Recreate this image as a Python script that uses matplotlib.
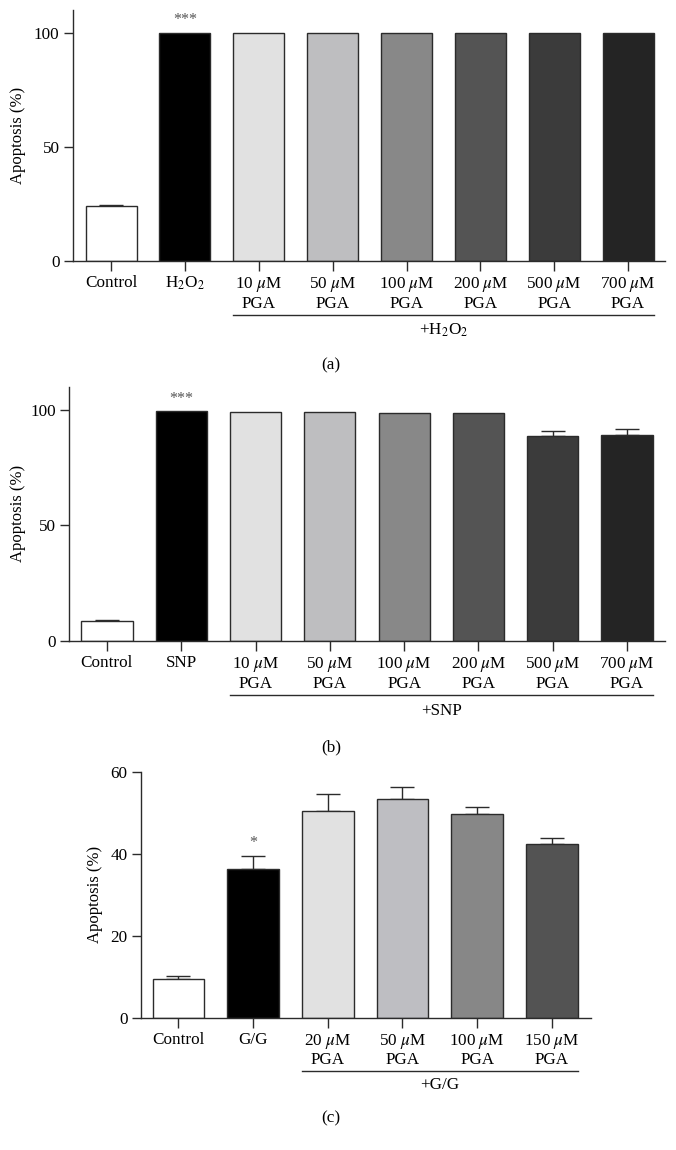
import matplotlib
matplotlib.use("Agg")
import matplotlib.pyplot as plt
from matplotlib.transforms import blended_transform_factory
import numpy as np

plt.rcParams['font.family'] = ['Liberation Serif', 'DejaVu Serif']
plt.rcParams['mathtext.fontset'] = 'stix'

# panel (a): H2O2
labels_a = ['Control', 'H$_2$O$_2$', '10 $\\mu$M\nPGA', '50 $\\mu$M\nPGA', '100 $\\mu$M\nPGA',
            '200 $\\mu$M\nPGA', '500 $\\mu$M\nPGA', '700 $\\mu$M\nPGA']
vals_a = [24.3, 100, 100, 100, 100, 100, 100, 100]
err_a = [0.4, 0, 0, 0, 0, 0, 0, 0]

# panel (b): SNP
labels_b = ['Control', 'SNP', '10 $\\mu$M\nPGA', '50 $\\mu$M\nPGA', '100 $\\mu$M\nPGA',
            '200 $\\mu$M\nPGA', '500 $\\mu$M\nPGA', '700 $\\mu$M\nPGA']
vals_b = [8.8, 99.3, 99.1, 99.0, 98.8, 98.8, 88.5, 89.1]
err_b = [0.5, 0, 0, 0, 0, 0, 2.4, 2.7]

# panel (c): G/G
labels_c = ['Control', 'G/G', '20 $\\mu$M\nPGA', '50 $\\mu$M\nPGA', '100 $\\mu$M\nPGA', '150 $\\mu$M\nPGA']
vals_c = [9.4, 36.4, 50.4, 53.3, 49.7, 42.3]
err_c = [0.9, 3.2, 4.2, 3.0, 1.8, 1.7]

colors8 = ['#ffffff', '#000000', '#e1e1e1', '#bebec0', '#888888', '#545454', '#3b3b3b', '#242424']
colors6 = ['#ffffff', '#000000', '#e1e1e1', '#bebec2', '#878787', '#535353']

W, H = 676, 1150
fig = plt.figure(figsize=(W / 100, H / 100), dpi=100)
edge = '#2b2b2b'
fs = 12.3


def panel(box, labels, vals, errs, colors, ymax, yticks, xlim, star, group, line_y, group_y,
          letter, letter_y, ylab_x):
    l, t, r, b = box
    ax = fig.add_axes([l / W, 1 - b / H, (r - l) / W, (b - t) / H])
    x = np.arange(len(vals))
    ax.bar(x, vals, width=0.69, color=colors, edgecolor=edge, linewidth=1.0, zorder=2)
    errs = np.array(errs)
    m = errs > 0
    ax.errorbar(x[m], np.array(vals)[m], yerr=[np.zeros(m.sum()), errs[m]], fmt='none',
                ecolor=edge, elinewidth=1.0, capsize=8.5, capthick=1.0, zorder=1)
    ax.set_xlim(*xlim)
    ax.set_ylim(0, ymax)
    ax.set_yticks(yticks)
    ax.set_xticks(x)
    ax.set_xticklabels(labels, fontsize=fs, linespacing=1.15)
    ax.tick_params(axis='y', length=6.5, width=1.0, color=edge, labelsize=fs, pad=3)
    ax.tick_params(axis='x', length=7, width=1.0, color=edge, pad=3)
    for s in ['top', 'right']:
        ax.spines[s].set_visible(False)
    for s in ['left', 'bottom']:
        ax.spines[s].set_color(edge)
        ax.spines[s].set_linewidth(1.0)
    ax.set_ylabel('Apoptosis (%)', fontsize=12)
    ax.yaxis.set_label_coords(ylab_x, 0.5)
    sx, sy, stxt = star
    ax.text(sx, sy, stxt, ha='center', va='center', fontsize=11.5, color='#555555')
    tr = blended_transform_factory(ax.transData, fig.transFigure)
    x0 = 2 - 0.345
    x1 = len(vals) - 1 + 0.345
    ax.plot([x0, x1], [1 - line_y / H, 1 - line_y / H], color=edge, lw=1.0,
            transform=tr, clip_on=False)
    ax.text((x0 + x1) / 2, 1 - group_y / H, group, transform=tr, ha='center', va='center',
            fontsize=fs)
    fig.text(0.49, 1 - letter_y / H, letter, ha='center', va='center', fontsize=fs)
    return ax


panel((72.7, 10, 665, 261), labels_a, vals_a, err_a, colors8, 110, [0, 50, 100],
      (-0.52, 7.5), (1, 105.5, '***'), '+H$_2$O$_2$', 315, 330, '(a)', 365, -0.079)

panel((69, 386.7, 665, 641), labels_b, vals_b, err_b, colors8, 110, [0, 50, 100],
      (-0.51, 7.51), (1, 104.5, '***'), '+SNP', 695, 711, '(b)', 747, -0.072)

panel((140.7, 772, 590.7, 1017.7), labels_c, vals_c, err_c, colors6, 60, [0, 20, 40, 60],
      (-0.505, 5.52), (1, 42.6, '*'), '+G/G', 1071, 1085, '(c)', 1118, -0.084)

fig.savefig('out.png', dpi=100)
